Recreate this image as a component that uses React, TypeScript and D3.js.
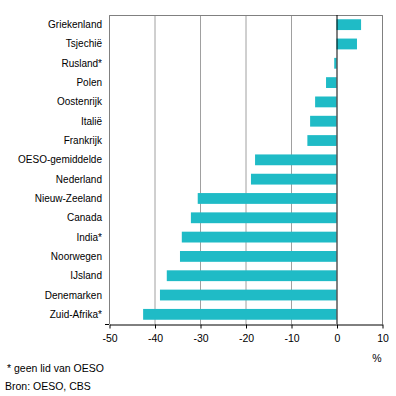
import React, { useRef, useEffect } from 'react';
import * as d3 from 'd3';

const categories = [
  'Griekenland', 'Tsjechië', 'Rusland*', 'Polen', 'Oostenrijk', 'Italië', 'Frankrijk',
  'OESO-gemiddelde', 'Nederland', 'Nieuw-Zeeland', 'Canada', 'India*', 'Noorwegen',
  'IJsland', 'Denemarken', 'Zuid-Afrika*',
];
const values = [5.4, 4.5, -0.5, -2.3, -4.7, -5.8, -6.4, -17.9, -18.8, -30.5, -32.0, -34.0, -34.4, -37.3, -38.8, -42.5];
const xTicks = [-50, -40, -30, -20, -10, 0, 10];
const footnotes = ['* geen lid van OESO', 'Bron: OESO, CBS'];

const App = () => {
  const svgRef = useRef<SVGSVGElement>(null);
  const margin = { top: 15, right: 14, bottom: 72, left: 109 };
  const width = 396 - margin.left - margin.right;
  const height = 396 - margin.top - margin.bottom;

  useEffect(() => {
    const svg = d3.select(svgRef.current);
    svg.selectAll('*').remove();
    const font = 'Liberation Sans, Arial, sans-serif';

    const x = d3.scaleLinear().domain([-50, 10]).range([0, width]);
    const y = d3.scaleBand().domain(categories).range([0, height]).paddingInner(0.44).paddingOuter(0.22);

    const g = svg.append('g').attr('transform', `translate(${margin.left},${margin.top})`);

    // gridlines
    g.selectAll('line.grid')
      .data(xTicks.filter(t => t !== 0))
      .enter().append('line')
      .attr('x1', d => x(d) + 0.5).attr('x2', d => x(d) + 0.5)
      .attr('y1', 0).attr('y2', height)
      .attr('stroke', '#a0a0a0').attr('stroke-width', 1);

    // frame (top, left, right)
    g.append('path')
      .attr('d', `M0.5,${height} V0.5 H${width + 0.5} V${height}`)
      .attr('fill', 'none').attr('stroke', '#808080');

    // bars
    g.selectAll('rect.bar')
      .data(values)
      .enter().append('rect')
      .attr('x', d => x(Math.min(0, d)))
      .attr('y', (d, i) => y(categories[i])!)
      .attr('width', d => Math.abs(x(d) - x(0)))
      .attr('height', y.bandwidth())
      .attr('fill', '#1fbbc6');

    // zero line
    g.append('line')
      .attr('x1', x(0) + 0.5).attr('x2', x(0) + 0.5)
      .attr('y1', 0).attr('y2', height)
      .attr('stroke', '#000');

    // x axis
    const xAxis = g.append('g')
      .attr('transform', `translate(0.5,${height + 0.5})`)
      .call(d3.axisBottom(x).tickValues(xTicks).tickFormat(d => String(d)).tickSize(4).tickSizeOuter(0).tickPadding(6));
    xAxis.select('.domain').attr('stroke', '#000');
    xAxis.selectAll('.tick line').attr('stroke', '#000');
    xAxis.selectAll('text').attr('font-family', font).attr('font-size', 10.5).attr('fill', '#000');

    g.append('line')
      .attr('x1', -4).attr('x2', 0).attr('y1', height + 0.5).attr('y2', height + 0.5)
      .attr('stroke', '#000');

    // category labels
    g.selectAll('text.cat')
      .data(categories)
      .enter().append('text')
      .attr('x', -7)
      .attr('y', d => y(d)! + y.bandwidth() / 2)
      .attr('dy', '0.35em')
      .attr('text-anchor', 'end')
      .attr('font-family', font).attr('font-size', 10)
      .text(d => d);

    svg.append('text')
      .attr('x', 377).attr('y', 362)
      .attr('text-anchor', 'middle')
      .attr('font-family', font).attr('font-size', 10.5)
      .text('%');

    svg.selectAll('text.foot')
      .data(footnotes)
      .enter().append('text')
      .attr('x', (d, i) => (i === 0 ? 7 : 5))
      .attr('y', (d, i) => 372 + i * 18)
      .attr('font-family', font).attr('font-size', 10.5)
      .text(d => d);
  }, []);

  return (
    <svg ref={svgRef} width={396} height={396} style={{ position: 'absolute', left: 0, top: 0 }} />
  );
};

export default App;
